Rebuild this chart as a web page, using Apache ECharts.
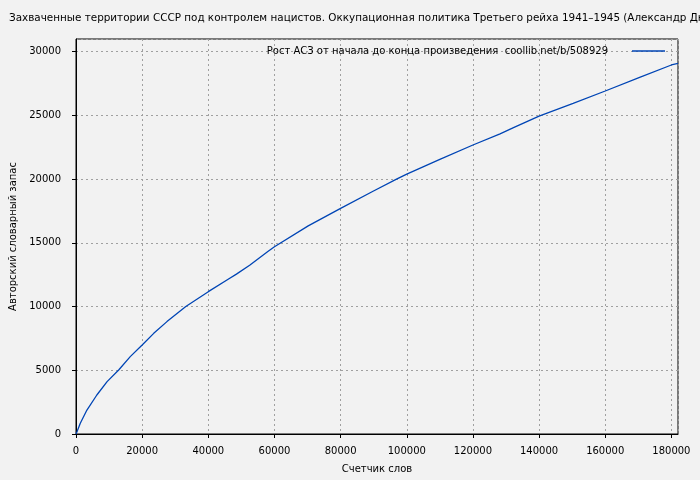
<!DOCTYPE html>
<html>
<head>
<meta charset="utf-8">
<script src="https://cdn.jsdelivr.net/npm/echarts@6/dist/echarts.min.js"></script>
<style>html,body{margin:0;padding:0;background:#f2f2f2}#c{width:700px;height:480px}</style>
</head>
<body>
<div id="c"></div>
<script>
var titleText = 'Захваченные территории СССР под контролем нацистов. Оккупационная политика Третьего рейха 1941–1945 (Александр Дюков)';
var seriesName = 'Рост АСЗ от начала до конца произведения  coollib.net/b/508929';
var xName = 'Счетчик слов';
var yName = 'Авторский словарный запас';
var wordCounts = [0, 300, 1300, 3300, 6300, 9400, 12900, 16400, 20000, 23500, 27500, 33200, 40000, 46000, 48500, 52500, 58000, 60000, 70200, 80000, 89800, 96900, 100000, 110000, 120000, 128200, 132100, 140000, 150300, 160000, 170400, 180000, 182000];
var vocab =      [0, 180, 840, 1880, 3060, 4110, 5020, 6070, 6990, 7900, 8820, 10000, 11170, 12150, 12550, 13250, 14330, 14700, 16330, 17710, 19050, 20000, 20400, 21560, 22680, 23560, 24020, 24950, 25950, 26920, 27990, 28960, 29090];

var data = wordCounts.map(function (x, i) { return [x, vocab[i]]; });
var font = 'DejaVu Sans';
var plain = function (v) { return String(v); };
var chart = echarts.init(document.getElementById('c'));
chart.setOption({
  backgroundColor: '#f2f2f2',
  animation: false,
  title: {
    text: titleText, left: 9, top: 13, padding: 0,
    textStyle: { fontFamily: font, fontSize: 10.4, fontWeight: 'normal', color: '#000' }
  },
  legend: {
    right: 35, top: 46, padding: 0, align: 'right',
    itemWidth: 33, itemHeight: 10,
    textStyle: { fontFamily: font, fontSize: 10, color: '#000', padding: [0, 19, 0, 0] },
    data: [{ name: seriesName, icon: 'path://M0,0 L33,0 L33,1.4 L0,1.4 Z' }]
  },
  grid: {
    left: 76, right: 22, top: 39, bottom: 46, outerBoundsMode: 'none', containLabel: false,
    show: true, borderColor: '#000', borderWidth: 1, backgroundColor: 'transparent'
  },
  xAxis: {
    type: 'value', min: 0, max: 182000, interval: 20000,
    name: xName, nameLocation: 'middle', nameGap: 30,
    nameTextStyle: { fontFamily: font, fontSize: 10, color: '#000' },
    axisLine: { show: true, lineStyle: { color: '#000', width: 1 } },
    axisTick: { show: true, length: 4, lineStyle: { color: '#000' } },
    axisLabel: { fontFamily: font, fontSize: 10, color: '#000', margin: 12, showMaxLabel: false, formatter: plain },
    splitLine: { show: true, lineStyle: { color: '#a0a0a0', type: [2, 3], width: 1 } }
  },
  yAxis: {
    type: 'value', min: 0, max: 31000, interval: 5000,
    name: yName, nameLocation: 'middle', nameGap: 58,
    nameTextStyle: { fontFamily: font, fontSize: 10, color: '#000' },
    axisLine: { show: true, lineStyle: { color: '#000', width: 1 } },
    axisTick: { show: true, length: 4, lineStyle: { color: '#000' } },
    axisLabel: { fontFamily: font, fontSize: 10, color: '#000', margin: 15, showMaxLabel: false, formatter: plain },
    splitLine: { show: true, lineStyle: { color: '#a0a0a0', type: [2, 3], width: 1 } }
  },
  series: [{
    name: seriesName, type: 'line', data: data,
    symbol: 'none', smooth: false,
    lineStyle: { color: '#0045b5', width: 1.3 },
    itemStyle: { color: '#0045b5' }
  }]
});
</script>
</body>
</html>
